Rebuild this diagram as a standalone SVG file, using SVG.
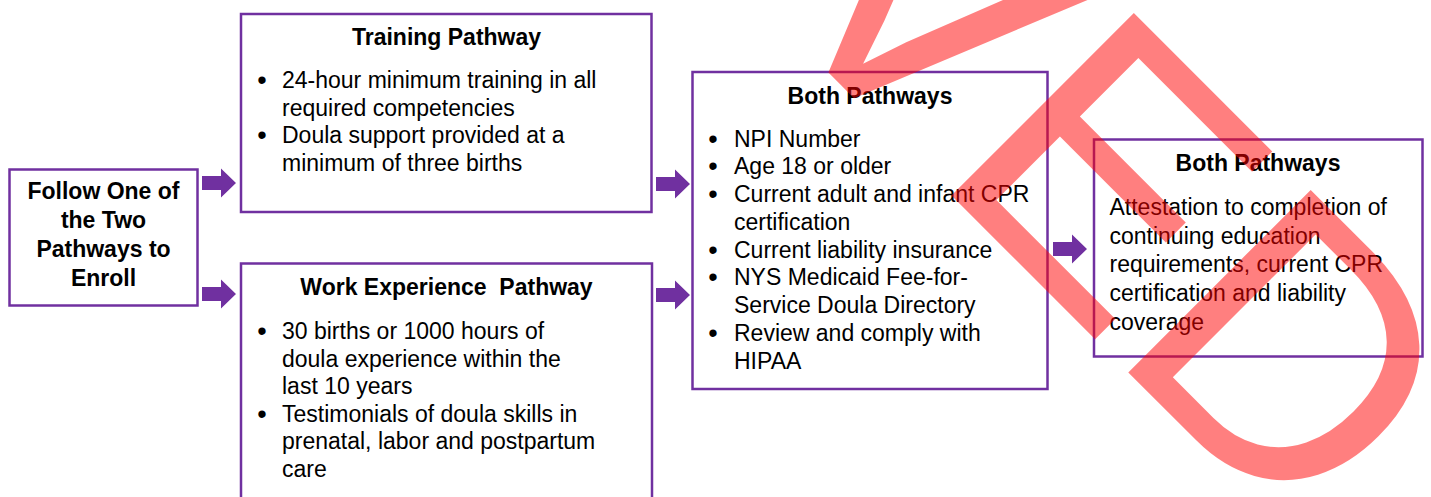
<svg xmlns="http://www.w3.org/2000/svg" width="1431" height="497" viewBox="0 0 1431 497">
  <defs>
    <style>
      .box { fill: #FFFFFF; stroke: #7030A0; stroke-width: 2.5; }
      .t { font-family: "Liberation Sans", Arial, sans-serif; font-size: 23px; fill: #000000; }
      .b { font-weight: bold; }
      .c { text-anchor: middle; }
      .bl { font-family: "Liberation Sans", Arial, sans-serif; font-size: 27px; fill: #000000; text-anchor: middle; }
      .pre { white-space: pre; }
      .arrow { fill: #7030A0; }
      .wm { font-family: "Liberation Sans", Arial, sans-serif; font-size: 375px; fill: #FF0000; fill-opacity: 0.5; }
    </style>
    <path id="blockArrow" d="M0,-7 H19 V-14.5 L34,0 L19,14.5 V7 H0 Z"/>
  </defs>
  <rect width="1431" height="497" fill="#FFFFFF"/>

  <g id="connectors">
    <use href="#blockArrow" class="arrow" transform="translate(202,183)"/>
    <use href="#blockArrow" class="arrow" transform="translate(202,294)"/>
    <use href="#blockArrow" class="arrow" transform="translate(656,184)"/>
    <use href="#blockArrow" class="arrow" transform="translate(656,295)"/>
    <use href="#blockArrow" class="arrow" transform="translate(1053,249)"/>
  </g>

  <g id="node-enroll">
    <rect class="box" x="9.5" y="169.5" width="188" height="136"/>
    <text class="t b c" x="103.5" y="199">Follow One of</text>
    <text class="t b c" x="103.5" y="228">the Two</text>
    <text class="t b c" x="103.5" y="257">Pathways to</text>
    <text class="t b c" x="103.5" y="286">Enroll</text>
  </g>

  <g id="node-training">
    <rect class="box" x="241" y="14" width="410.5" height="198"/>
    <text class="t b c" x="446.5" y="45">Training Pathway</text>
    <text class="bl" x="262" y="89">•</text>
    <text class="t" x="282" y="88">24-hour minimum training in all</text>
    <text class="t" x="282" y="115.5">required competencies</text>
    <text class="bl" x="262" y="144">•</text>
    <text class="t" x="282" y="143">Doula support provided at a</text>
    <text class="t" x="282" y="170.5">minimum of three births</text>
  </g>

  <g id="node-work">
    <rect class="box" x="241" y="263.5" width="411" height="260"/>
    <text class="t b c pre" x="446.5" y="295">Work Experience  Pathway</text>
    <text class="bl" x="262" y="340">•</text>
    <text class="t" x="282" y="339">30 births or 1000 hours of</text>
    <text class="t" x="282" y="366.5">doula experience within the</text>
    <text class="t" x="282" y="394">last 10 years</text>
    <text class="bl" x="262" y="422.5">•</text>
    <text class="t" x="282" y="421.5">Testimonials of doula skills in</text>
    <text class="t" x="282" y="449">prenatal, labor and postpartum</text>
    <text class="t" x="282" y="476.5">care</text>
  </g>

  <g id="node-both-1">
    <rect class="box" x="692.5" y="72" width="355" height="317"/>
    <text class="t b c" x="870" y="104">Both Pathways</text>
    <text class="bl" x="713" y="147.5">•</text>
    <text class="t" x="734" y="146.5">NPI Number</text>
    <text class="bl" x="713" y="175.3">•</text>
    <text class="t" x="734" y="174.3">Age 18 or older</text>
    <text class="bl" x="713" y="203">•</text>
    <text class="t" x="734" y="202">Current adult and infant CPR</text>
    <text class="t" x="734" y="229.8">certification</text>
    <text class="bl" x="713" y="258.5">•</text>
    <text class="t" x="734" y="257.5">Current liability insurance</text>
    <text class="bl" x="713" y="286.3">•</text>
    <text class="t" x="734" y="285.3">NYS Medicaid Fee-for-</text>
    <text class="t" x="734" y="313">Service Doula Directory</text>
    <text class="bl" x="713" y="341.8">•</text>
    <text class="t" x="734" y="340.8">Review and comply with</text>
    <text class="t" x="734" y="368.5">HIPAA</text>
  </g>

  <g id="node-both-2">
    <rect class="box" x="1094" y="139.5" width="328.5" height="217"/>
    <text class="t b c" x="1258" y="170.5">Both Pathways</text>
    <text class="t" x="1109.5" y="215">Attestation to completion of</text>
    <text class="t" x="1109.5" y="243.7">continuing education</text>
    <text class="t" x="1109.5" y="272.4">requirements, current CPR</text>
    <text class="t" x="1109.5" y="301.1">certification and liability</text>
    <text class="t" x="1109.5" y="329.8">coverage</text>
  </g>

  <g id="watermark">
    <text class="wm" transform="translate(752.8,-3.1) rotate(45)">VED</text>
  </g>
</svg>
